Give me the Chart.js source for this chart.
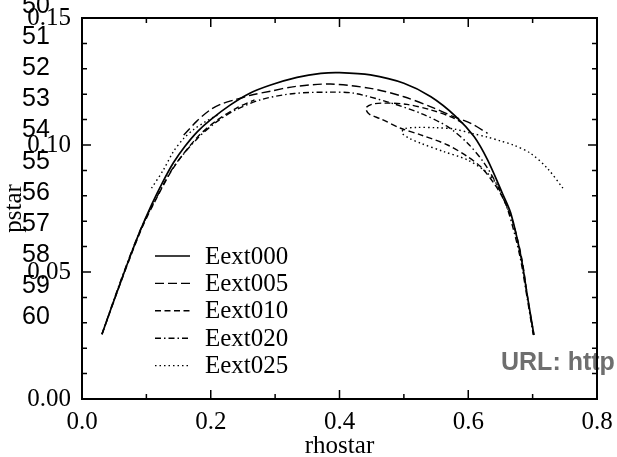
<!DOCTYPE html>
<html><head><meta charset="utf-8">
<script src="https://cdn.jsdelivr.net/npm/chart.js@4.4.0/dist/chart.umd.min.js"></script>
<style>html,body{margin:0;padding:0;background:#fff;overflow:hidden}</style>
</head><body>
<canvas id="c" width="617" height="457"></canvas>
<script>
// ---- data ----
const seriesNames = ['Eext000', 'Eext005', 'Eext010', 'Eext020', 'Eext025'];
const eext000 = [[0.031,0.0255],[0.045,0.0355],[0.060,0.0460],[0.075,0.0563],[0.090,0.0660],[0.108,0.0764],[0.125,0.0852],[0.142,0.0930],[0.160,0.0995],[0.179,0.1052],[0.200,0.1100],[0.230,0.1157],[0.260,0.1203],[0.293,0.1236],[0.334,0.1266],[0.371,0.1282],[0.400,0.1285],[0.448,0.1276],[0.500,0.1243],[0.542,0.1190],[0.580,0.1114],[0.609,0.1033],[0.630,0.0941],[0.653,0.0810],[0.666,0.0732],[0.682,0.0559],[0.692,0.0403],[0.702,0.0252]];
const eext005 = [[0.158,0.1039],[0.178,0.1093],[0.199,0.1138],[0.218,0.1163],[0.236,0.1177],[0.262,0.1196],[0.293,0.1212],[0.330,0.1230],[0.386,0.1240],[0.448,0.1223],[0.500,0.1190],[0.546,0.1146],[0.578,0.1111],[0.604,0.1085],[0.630,0.1046]];
const eext010 = [[0.031,0.0255],[0.060,0.0458],[0.090,0.0655],[0.108,0.0752],[0.142,0.0910],[0.179,0.1030],[0.210,0.1098],[0.240,0.1145],[0.268,0.1178],[0.300,null],
  [0.592,0.1085],[0.573,0.1111],[0.542,0.1138],[0.505,0.1160],[0.469,0.1165],[0.450,0.1160],[0.441,0.1145],[0.446,0.1122],[0.464,0.1103],[0.495,0.1066],[0.526,0.1040],[0.568,0.1000],[0.599,0.0954],[0.619,0.0915],[0.640,0.0849],[0.656,0.0780],[0.670,0.0690],[0.683,0.0555],[0.692,0.0403],[0.702,0.0252]];
const eext020 = [[0.031,0.0255],[0.060,0.0465],[0.090,0.0662],[0.108,0.0755],[0.142,0.0912],[0.179,0.1025],[0.210,0.1093],[0.240,0.1140],[0.280,0.1180],[0.330,0.1203],[0.386,0.1208],[0.422,0.1204],[0.474,0.1170],[0.526,0.1125],[0.568,0.1072],[0.599,0.1007],[0.625,0.0928],[0.646,0.0836],[0.662,0.0740],[0.680,0.0565],[0.691,0.0405],[0.701,0.0252]];
const eext025 = [[0.108,0.0830],[0.1265,0.0902],[0.142,0.0974],[0.158,0.1026],[0.174,0.1062],[0.192,0.1092],[0.212,0.1120],[0.300,null],
  [0.662,0.0745],[0.648,0.0830],[0.630,0.0889],[0.599,0.0941],[0.562,0.0974],[0.526,0.1007],[0.508,0.1027],[0.497,0.1048],[0.501,0.1064],[0.520,0.1069],[0.550,0.1068],[0.578,0.1063],[0.605,0.1046],[0.630,0.1031],[0.650,0.1016],[0.670,0.1000],[0.697,0.0967],[0.723,0.0908],[0.747,0.0830]];
const xTicks = [0.0, 0.2, 0.4, 0.6, 0.8];
const yTicks = [0.00, 0.05, 0.10, 0.15];
const sideLabels = ['50','51','52','53','54','55','56','57','58','59','60'];
const urlText = 'URL: http';
const xTitle = 'rhostar';
const yTitle = 'pstar';

const seriesData = [eext000, eext005, eext010, eext020, eext025];
const dashes = [[], [9,4], [6,3.5], [6,3,1.5,3], [1.5,3]];
const widths = [1.7, 1.4, 1.4, 1.4, 1.4];

const serif = '"Liberation Serif", "Times New Roman", serif';
const sans = '"Liberation Sans", Arial, sans-serif';

const overlay = {
  id: 'overlay',
  beforeDraw(chart) {
    const ctx = chart.ctx;
    ctx.save();
    ctx.fillStyle = '#fff';
    ctx.fillRect(0, 0, chart.width, chart.height);
    ctx.fillStyle = '#6e6e6e';
    ctx.font = 'bold 25px ' + sans;
    ctx.textBaseline = 'alphabetic';
    ctx.textAlign = 'left';
    ctx.fillText(urlText, 501, 370);
    ctx.restore();
  },
  afterDraw(chart) {
    const ctx = chart.ctx;
    const a = chart.chartArea;
    const xs = chart.scales.x, ys = chart.scales.y;
    ctx.save();
    ctx.strokeStyle = '#000';
    ctx.lineWidth = 2;
    ctx.strokeRect(a.left, a.top, a.right - a.left, a.bottom - a.top);
    ctx.lineWidth = 1.5;
    ctx.beginPath();
    for (let i = 0; i <= 8; i++) {
      const px = xs.getPixelForValue(i * 0.1);
      const len = (i % 2 === 0) ? 9 : 5;
      ctx.moveTo(px, a.bottom); ctx.lineTo(px, a.bottom - len);
      ctx.moveTo(px, a.top); ctx.lineTo(px, a.top + len);
    }
    for (let i = 0; i <= 15; i++) {
      const py = ys.getPixelForValue(i * 0.01);
      const len = (i % 5 === 0) ? 9 : 5;
      ctx.moveTo(a.left, py); ctx.lineTo(a.left + len, py);
      ctx.moveTo(a.right, py); ctx.lineTo(a.right - len, py);
    }
    ctx.stroke();
    ctx.fillStyle = '#000';
    ctx.font = '25px ' + sans;
    ctx.textAlign = 'left';
    ctx.textBaseline = 'alphabetic';
    sideLabels.forEach((t, i) => ctx.fillText(t, 22, 13 + i * 31.1));
    ctx.font = '25px ' + serif;
    ctx.textBaseline = 'middle';
    chart.data.datasets.forEach((ds, i) => {
      const y = 256 + i * 27.4;
      ctx.strokeStyle = '#000';
      ctx.lineWidth = ds.borderWidth;
      ctx.setLineDash(ds.borderDash);
      ctx.beginPath(); ctx.moveTo(155, y); ctx.lineTo(190, y); ctx.stroke();
      ctx.setLineDash([]);
      ctx.fillText(ds.label, 205, y + 1);
    });
    ctx.restore();
  }
};

new Chart(document.getElementById('c'), {
  type: 'scatter',
  data: {
    datasets: seriesNames.map((n, i) => ({
      label: n,
      data: seriesData[i].map(p => ({x: p[0], y: p[1]})),
      showLine: true,
      borderColor: '#000',
      backgroundColor: '#000',
      borderWidth: widths[i],
      borderDash: dashes[i],
      pointRadius: 0,
      tension: 0.3,
      spanGaps: false,
      fill: false
    }))
  },
  options: {
    responsive: false,
    animation: false,
    devicePixelRatio: 1,
    layout: { padding: { top: 18, right: 20, left: 0, bottom: 0 } },
    plugins: { legend: { display: false }, tooltip: { enabled: false } },
    scales: {
      x: {
        type: 'linear', min: 0, max: 0.8,
        afterBuildTicks: s => { s.ticks = xTicks.map(v => ({value: v})); },
        afterFit: s => { s.height = 58; s.paddingLeft = 0; s.paddingRight = 0; },
        grid: { display: false, drawTicks: false },
        border: { display: false },
        ticks: { color: '#000', padding: 8, font: { family: serif, size: 25 }, callback: v => v.toFixed(1), maxRotation: 0 },
        title: { display: true, text: xTitle, color: '#000', font: { family: serif, size: 25, lineHeight: 1 }, padding: { top: 0, bottom: -2 } }
      },
      y: {
        type: 'linear', min: 0, max: 0.15,
        afterBuildTicks: s => { s.ticks = yTicks.map(v => ({value: v})); },
        afterFit: s => { s.width = 82; s.paddingTop = 0; s.paddingBottom = 0; },
        grid: { display: false, drawTicks: false },
        border: { display: false },
        ticks: { color: '#000', padding: 11, font: { family: serif, size: 25 }, callback: v => v.toFixed(2) },
        title: { display: true, text: yTitle, color: '#000', font: { family: serif, size: 25, lineHeight: 1 }, padding: { top: 2, bottom: 0 } }
      }
    }
  },
  plugins: [overlay]
});
</script>
</body></html>
